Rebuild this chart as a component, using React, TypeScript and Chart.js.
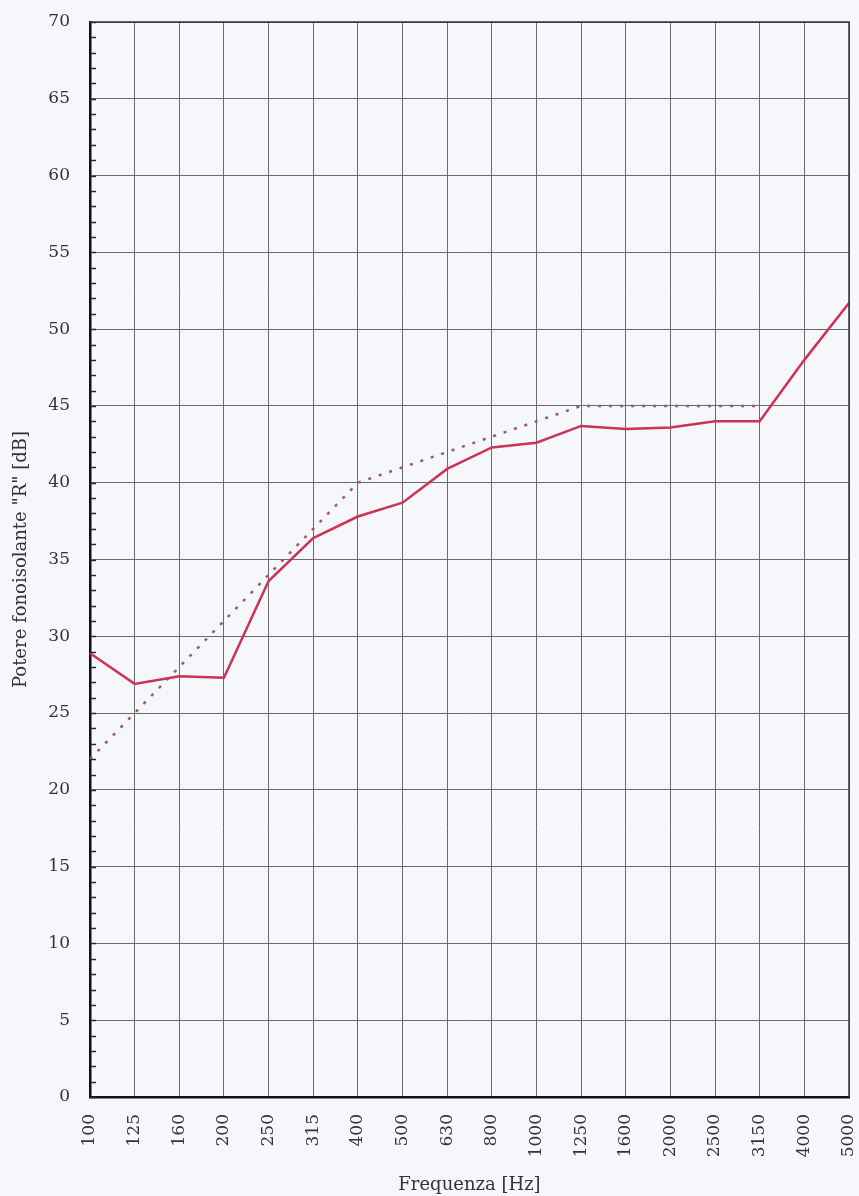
import React, { useEffect, useRef } from "react";
import { Chart, registerables } from "chart.js";

Chart.register(...registerables);

const frequencies = ["100", "125", "160", "200", "250", "315", "400", "500", "630", "800", "1000", "1250", "1600", "2000", "2500", "3150", "4000", "5000"];
const measuredR = [28.9, 26.9, 27.4, 27.3, 33.6, 36.4, 37.8, 38.7, 40.9, 42.3, 42.6, 43.7, 43.5, 43.6, 44.0, 44.0, 48.0, 51.7];
const referenceCurve = [22, 25, 28, 31, 34, 37, 40, 41, 42, 43, 44, 45, 45, 45, 45, 45, null, null];
const yMin = 0;
const yMax = 70;
const yStep = 5;
const yMinorStep = 1;

const FONT = "'DejaVu Serif', 'Liberation Serif', serif";

const framePlugin = {
  id: "framePlugin",
  afterDraw(chart: any) {
    const { ctx, chartArea } = chart;
    const y = chart.scales.y;
    ctx.save();
    ctx.strokeStyle = "#2a2a2a";
    ctx.lineWidth = 1.5;
    for (let v = yMin; v <= yMax; v += yMinorStep) {
      const py = Math.round(y.getPixelForValue(v)) + 0.5;
      ctx.beginPath();
      ctx.moveTo(chartArea.left, py);
      ctx.lineTo(chartArea.left + 6, py);
      ctx.stroke();
    }
    ctx.strokeStyle = "#333";
    ctx.lineWidth = 1.5;
    ctx.beginPath();
    ctx.moveTo(chartArea.left, chartArea.top);
    ctx.lineTo(chartArea.right, chartArea.top);
    ctx.lineTo(chartArea.right, chartArea.bottom);
    ctx.stroke();
    ctx.restore();
  },
};

export default function App() {
  const ref = useRef<HTMLCanvasElement | null>(null);

  useEffect(() => {
    if (!ref.current) return;
    const chart = new Chart(ref.current, {
      type: "line",
      data: {
        labels: frequencies,
        datasets: [
          {
            label: "R",
            data: measuredR,
            borderColor: "#cc3355",
            borderWidth: 2.5,
            pointRadius: 0,
            tension: 0,
            fill: false,
          },
          {
            label: "Riferimento",
            data: referenceCurve,
            borderColor: "#a05866",
            borderWidth: 2.5,
            borderDash: [3, 8],
            pointRadius: 0,
            tension: 0,
            fill: false,
            spanGaps: false,
          },
        ],
      },
      options: {
        responsive: false,
        animation: false,
        layout: { padding: { top: 22, right: 10, left: 0, bottom: 0 } },
        plugins: {
          legend: { display: false },
          tooltip: { enabled: false },
        },
        scales: {
          x: {
            type: "category",
            offset: false,
            grid: { color: "#6a6a6a", lineWidth: 1, drawTicks: false },
            border: { color: "#111", width: 2.5 },
            ticks: {
              minRotation: 90,
              maxRotation: 90,
              autoSkip: false,
              padding: 17,
              color: "#333",
              font: { family: FONT, size: 17 },
            },
            title: {
              display: true,
              text: "Frequenza [Hz]",
              color: "#333",
              font: { family: FONT, size: 18 },
              padding: { top: 0, bottom: 0 },
            },
            afterFit(scale: any) {
              scale.height = 99;
              scale.paddingLeft = 0;
              scale.paddingRight = 0;
            },
          },
          y: {
            min: yMin,
            max: yMax,
            grid: { color: "#6a6a6a", lineWidth: 1, drawTicks: false },
            border: { color: "#111", width: 2.5 },
            ticks: {
              stepSize: yStep,
              padding: 20,
              color: "#333",
              font: { family: FONT, size: 17 },
            },
            title: {
              display: true,
              text: "Potere fonoisolante \"R\" [dB]",
              color: "#333",
              font: { family: FONT, size: 18 },
              padding: { top: 11, bottom: 0 },
            },
            afterFit(scale: any) {
              scale.width = 90;
              scale.paddingTop = 0;
              scale.paddingBottom = 0;
            },
          },
        },
      },
      plugins: [framePlugin],
    });
    return () => chart.destroy();
  }, []);

  return (
    <div style={{ position: "absolute", left: 0, top: 0, width: 859, height: 1196, background: "#f5f7fb" }}>
      <canvas ref={ref} width={859} height={1196} style={{ display: "block" }} />
    </div>
  );
}
